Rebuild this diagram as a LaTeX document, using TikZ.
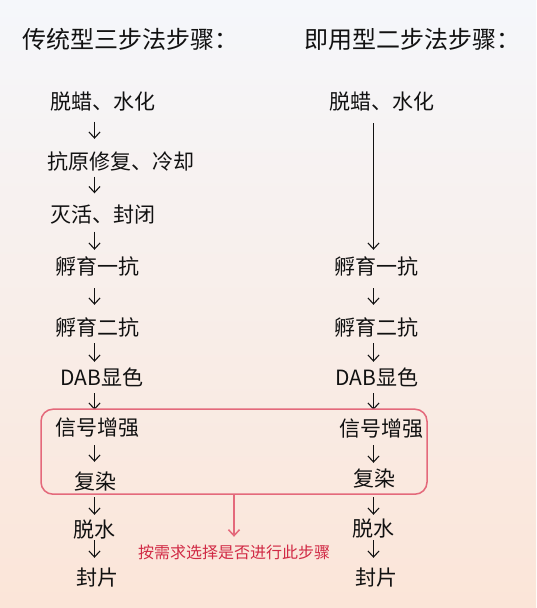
\documentclass[tikz,border=0pt]{standalone}
\usepackage{fontspec}
\setmainfont{Noto Sans CJK SC}
\usepackage{xcolor}
\usepackage{tikz}
\usetikzlibrary{arrows.meta}
\definecolor{bgtop}{HTML}{F5F7FB}
\definecolor{bgmid}{HTML}{F7F4F4}
\definecolor{bgbottom}{HTML}{FBE5D8}
\definecolor{steptext}{HTML}{111111}
\definecolor{optred}{HTML}{E4697B}
\definecolor{notered}{HTML}{D12A45}
\tikzset{
    % Titles and step labels
    title/.style={anchor=west, inner sep=0pt, text height=21.1pt, text depth=2.9pt, text=steptext, font=\fontsize{24}{28}\selectfont},
    stepnode/.style={inner sep=0pt, text height=18.5pt, text depth=2.5pt, text=steptext, font=\fontsize{21}{25}\selectfont},
    steparrow/.style={-{Straight Barb[length=6pt, width=11pt]}, line width=1.1pt, steptext},
    arrowgap/.style 2 args={shorten <=#1, shorten >=#2},
    % Optional steps
    optbox/.style={draw=optred, line width=1.5pt, rounded corners=12pt, minimum width=386pt, minimum height=85pt},
    optarrow/.style={-{Straight Barb[length=6pt, width=11pt]}, line width=1.5pt, optred},
    note/.style={inner sep=0pt, text height=14.1pt, text depth=1.9pt, text=notered, font=\fontsize{16}{19}\selectfont}
}

\begin{document}
\begin{tikzpicture}[x=1pt, y=-1pt]
    % Background
    \useasboundingbox (0,0) rectangle (536,608);
    \shade[top color=bgtop, middle color=bgmid, bottom color=bgbottom] (0,0) rectangle (536,608);

    % Titles
    \node[title] (titleL) at (22,39) {传统型三步法步骤：};
    \node[title] (titleR) at (304,39) {即用型二步法步骤：};

    % Arrow columns
    \coordinate (colL) at (94.5,0);
    \coordinate (colR) at (373.5,0);

    % Traditional three-step method
    \node[stepnode] (dlL) at (102.5,101) {脱蜡、水化};
    \node[stepnode] (kyL) at (121,161) {抗原修复、冷却};
    \node[stepnode] (mhL) at (102.5,214) {灭活、封闭};
    \node[stepnode] (fy1L) at (97,266) {孵育一抗};
    \node[stepnode] (fy2L) at (97,327) {孵育二抗};
    \node[stepnode] (dabL) at (102,377.5) {DAB显色};
    \node[stepnode] (xhL) at (97,427) {信号增强};
    \node[stepnode] (frL) at (95,481.5) {复染};
    \node[stepnode] (tsL) at (94.5,529) {脱水};
    \node[stepnode] (fpL) at (97,577.5) {封片};

    \draw[steparrow, arrowgap={10pt}{11.5pt}] (dlL.south -| colL) -- (kyL.north -| colL);
    \draw[steparrow, arrowgap={5pt}{10pt}] (kyL.south -| colL) -- (mhL.north -| colL);
    \draw[steparrow, arrowgap={7pt}{5.5pt}] (mhL.south -| colL) -- (fy1L.north -| colL);
    \draw[steparrow, arrowgap={11.5pt}{11.5pt}] (fy1L.south -| colL) -- (fy2L.north -| colL);
    \draw[steparrow, arrowgap={5.5pt}{5pt}] (fy2L.south -| colL) -- (dabL.north -| colL);
    \draw[steparrow, arrowgap={5pt}{6.5pt}] (dabL.south -| colL) -- (xhL.north -| colL);
    \draw[steparrow, arrowgap={7.5pt}{9pt}] (xhL.south -| colL) -- (frL.north -| colL);
    \draw[steparrow, arrowgap={5pt}{3.5pt}] (frL.south -| colL) -- (tsL.north -| colL);
    \draw[steparrow, arrowgap={0.5pt}{9pt}] (tsL.south -| colL) -- (fpL.north -| colL);

    % Ready-to-use two-step method
    \node[stepnode] (dlR) at (381.5,101) {脱蜡、水化};
    \node[stepnode] (fy1R) at (376.5,266) {孵育一抗};
    \node[stepnode] (fy2R) at (376.5,327) {孵育二抗};
    \node[stepnode] (dabR) at (377,377.5) {DAB显色};
    \node[stepnode] (xhR) at (381.5,428) {信号增强};
    \node[stepnode] (frR) at (374,478) {复染};
    \node[stepnode] (tsR) at (373.5,528) {脱水};
    \node[stepnode] (fpR) at (376,577.5) {封片};

    \draw[steparrow, arrowgap={11.5pt}{5.5pt}] (dlR.south -| colR) -- (fy1R.north -| colR);
    \draw[steparrow, arrowgap={11.5pt}{11.5pt}] (fy1R.south -| colR) -- (fy2R.north -| colR);
    \draw[steparrow, arrowgap={5.5pt}{5pt}] (fy2R.south -| colR) -- (dabR.north -| colR);
    \draw[steparrow, arrowgap={5pt}{7.5pt}] (dabR.south -| colR) -- (xhR.north -| colR);
    \draw[steparrow, arrowgap={6.5pt}{4.5pt}] (xhR.south -| colR) -- (frR.north -| colR);
    \draw[steparrow, arrowgap={8.5pt}{2.5pt}] (frR.south -| colR) -- (tsR.north -| colR);
    \draw[steparrow, arrowgap={1.5pt}{9pt}] (tsR.south -| colR) -- (fpR.north -| colR);

    % Optional steps box and note
    \node[optbox] (opt) at (234,451.7) {};
    \node[note] (optnote) at (234,552.5) {按需求选择是否进行此步骤};
    \draw[optarrow, shorten >=7.5pt] (opt.south) -- (optnote.north);
\end{tikzpicture}
\end{document}
